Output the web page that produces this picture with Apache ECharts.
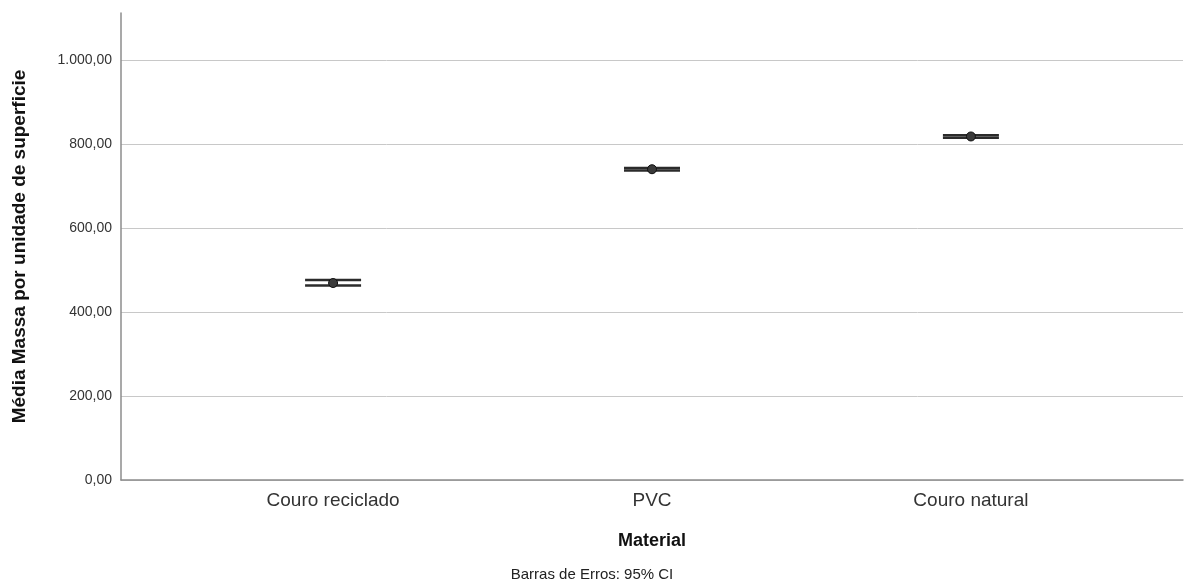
<!DOCTYPE html>
<html>
<head>
<meta charset="utf-8">
<script src="https://cdn.jsdelivr.net/npm/echarts@6/dist/echarts.min.js"></script>
<style>
  html, body { margin: 0; padding: 0; background: #fff; }
  #chart { width: 1184px; height: 588px; }
</style>
</head>
<body>
<div id="chart"></div>
<script>
// Mean mass per unit surface by material, with 95% confidence intervals
const categories = ['Couro reciclado', 'PVC', 'Couro natural'];
const means = [469, 740, 818];
const ciLower = [463, 737, 815];
const ciUpper = [476, 743, 821];
const yTicks = [0, 200, 400, 600, 800, 1000];

const FONT = '"Liberation Sans", Arial, sans-serif';
// space on each side of the outer categories, in category-spacing units
const sidePad = 0.665;

function fmtBR(v) {
  const s = v.toFixed(2).split('.');
  const int = s[0].replace(/\B(?=(\d{3})+(?!\d))/g, '.');
  return int + ',' + s[1];
}

const barData = categories.map((c, i) => [i, ciLower[i], ciUpper[i], means[i]]);

const chart = echarts.init(document.getElementById('chart'), null, { renderer: 'canvas' });
chart.setOption({
  animation: false,
  backgroundColor: '#ffffff',
  grid: { left: 121, right: 1, top: 13, bottom: 108, containLabel: false, outerBoundsMode: 'none' },
  xAxis: {
    type: 'value',
    min: -sidePad,
    max: categories.length - 1 + sidePad,
    name: 'Material',
    nameLocation: 'middle',
    nameGap: 52,
    nameTextStyle: { fontFamily: FONT, fontSize: 18, fontWeight: 'bold', color: '#111' },
    axisLine: { show: true, onZero: false, lineStyle: { color: '#8c8c8c', width: 1.5 } },
    axisTick: { show: false },
    splitLine: { show: false },
    axisLabel: {
      customValues: categories.map((c, i) => i),
      formatter: v => categories[Math.round(v)] || '',
      fontFamily: FONT, fontSize: 19, color: '#333', margin: 11
    }
  },
  yAxis: {
    type: 'value',
    min: 0,
    max: 1112,
    interval: 200,
    name: 'Média Massa por unidade de superficie',
    nameLocation: 'middle',
    nameGap: 92,
    nameTextStyle: { fontFamily: FONT, fontSize: 19, fontWeight: 'bold', color: '#111' },
    axisLine: { show: true, onZero: false, lineStyle: { color: '#8c8c8c', width: 1.5 } },
    axisTick: { show: false },
    axisLabel: {
      customValues: yTicks,
      formatter: v => fmtBR(v),
      fontFamily: FONT, fontSize: 14, color: '#333', margin: 9
    },
    splitLine: { show: true, showMaxLine: false, lineStyle: { color: '#c8c8c8', width: 1 } }
  },
  graphic: [{
    type: 'text',
    x: 592,
    y: 575,
    style: { text: 'Barras de Erros: 95% CI', font: '15px ' + FONT, fill: '#222', align: 'center', verticalAlign: 'middle' }
  }],
  series: [{
    type: 'custom',
    data: barData,
    encode: { x: 0, y: [1, 2, 3] },
    renderItem: function (params, api) {
      const x = api.value(0);
      const lo = api.coord([x, api.value(1)]);
      const hi = api.coord([x, api.value(2)]);
      const mid = api.coord([x, api.value(3)]);
      const half = 28;
      const stroke = { stroke: '#2b2b2b', lineWidth: 2.5 };
      return {
        type: 'group',
        children: [
          { type: 'line', shape: { x1: lo[0] - half, y1: lo[1], x2: lo[0] + half, y2: lo[1] }, style: stroke },
          { type: 'line', shape: { x1: hi[0] - half, y1: hi[1], x2: hi[0] + half, y2: hi[1] }, style: stroke },
          { type: 'line', shape: { x1: lo[0], y1: lo[1], x2: hi[0], y2: hi[1] }, style: stroke },
          { type: 'circle', shape: { cx: mid[0], cy: mid[1], r: 4.5 }, style: { fill: '#3a3a3a', stroke: '#111', lineWidth: 1 } }
        ]
      };
    }
  }]
});
</script>
</body>
</html>
